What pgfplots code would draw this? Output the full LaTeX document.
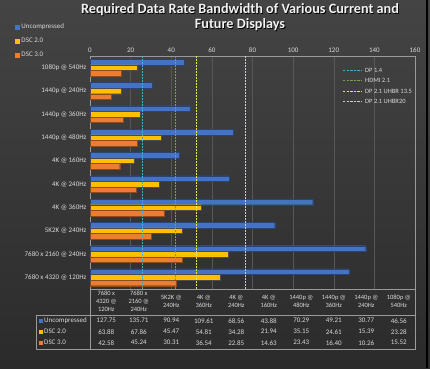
\documentclass[border=0pt]{standalone}
\usepackage{pgfplots}
\pgfplotsset{compat=1.18}
\usepackage{fontspec}
\setmainfont{Carlito}
\definecolor{bgtop}{HTML}{444444}
\definecolor{bgbot}{HTML}{2B2B2B}
\definecolor{gridc}{HTML}{575757}
\definecolor{axisc}{HTML}{9A9A9A}
\definecolor{labc}{HTML}{D9D9D9}
\definecolor{titlec}{HTML}{F2F2F2}
\definecolor{cblue}{HTML}{4472C4}
\definecolor{cgold}{HTML}{FFC000}
\definecolor{corange}{HTML}{ED7D31}
\definecolor{dpa}{HTML}{4BACC6}
\definecolor{hdmi}{HTML}{7F9F4F}
\definecolor{uhba}{HTML}{E8E84A}
\definecolor{uhbb}{HTML}{C9CCDC}
\begin{document}
\begin{tikzpicture}
\useasboundingbox (0,0) rectangle (430pt,368pt);
\shade[top color=bgtop, bottom color=bgbot] (0,0) rectangle (430pt,368pt);
\draw[black, line width=1.5pt] (427pt,0pt) -- (427pt,368pt);

\begin{axis}[
  at={(90pt,79pt)}, anchor=south west, scale only axis,
  width=325pt, height=233pt,
  xbar, bar width=0.24,
  xmin=0, xmax=160, ymin=-0.5, ymax=9.5,
  xtick={0,20,...,160}, xticklabel pos=upper,
  ytick={0,...,9},
  yticklabels={7680 x 4320 @ 120Hz, 7680 x 2160 @ 240Hz, 5K2K @ 240Hz, 4K @ 360Hz, 4K @ 240Hz, 4K @ 160Hz, 1440p @ 480Hz, 1440p @ 360Hz, 1440p @ 240Hz, 1080p @ 540Hz},
  major tick length=0pt,
  xmajorgrids, grid style={color=gridc, line width=0.5pt},
  axis line style={color=axisc, line width=0.6pt},
  tick label style={font=\fontsize{7}{8}\selectfont, color=labc},
  /pgf/number format/assume math mode=true,
  legend style={at={(-0.24,1.157)}, anchor=north west, draw=none, fill=none,
    font=\fontsize{7}{8}\selectfont, text=labc, row sep=4pt, cells={anchor=west}},
]
\addplot[fill=cblue, draw=cblue!60!black, line width=0.3pt, bar shift=0.24,
  legend image code/.code={\fill[cblue] (0pt,-2pt) rectangle (4pt,2pt);}]
  coordinates {(127.75,0) (135.71,1) (90.94,2) (109.61,3) (68.56,4) (43.88,5) (70.29,6) (49.21,7) (30.77,8) (46.56,9)};
\addlegendentry{Uncompressed}
\addplot[fill=cgold, draw=black!70, line width=0.3pt, bar shift=0,
  legend image code/.code={\fill[cgold] (0pt,-2pt) rectangle (4pt,2pt);}]
  coordinates {(63.88,0) (67.86,1) (45.47,2) (54.81,3) (34.28,4) (21.94,5) (35.15,6) (24.61,7) (15.39,8) (23.28,9)};
\addlegendentry{DSC 2.0}
\addplot[fill=corange, draw=corange!60!black, line width=0.3pt, bar shift=-0.24,
  legend image code/.code={\fill[corange] (0pt,-2pt) rectangle (4pt,2pt);}]
  coordinates {(42.58,0) (45.24,1) (30.31,2) (36.54,3) (22.85,4) (14.63,5) (23.43,6) (16.40,7) (10.26,8) (15.52,9)};
\addlegendentry{DSC 3.0}
\end{axis}

\begin{axis}[
  at={(90pt,79pt)}, anchor=south west, scale only axis,
  width=325pt, height=233pt,
  xmin=0, xmax=160, ymin=-0.5, ymax=9.5,
  hide axis,
]
\addplot[draw=dpa, dash pattern=on 2pt off 1pt, line width=1pt, mark=none]
  coordinates {(25.92,-0.5) (25.92,9.5)};
\addplot[draw=hdmi, dash pattern=on 2pt off 1pt, line width=1pt, mark=none]
  coordinates {(42.0,-0.5) (42.0,9.5)};
\addplot[draw=uhba, dash pattern=on 2pt off 1pt, line width=1pt, mark=none]
  coordinates {(52.22,-0.5) (52.22,9.5)};
\addplot[draw=uhbb, dash pattern=on 2pt off 1pt, line width=1pt, mark=none]
  coordinates {(76.5,-0.5) (76.5,9.5)};
\end{axis}

\begin{scope}[x=1pt, y=1pt]
  % line legend
  \foreach \c/\t/\yy in {dpa/{DP 1.4}/297.3, hdmi/{HDMI 2.1}/287.3, uhba/{DP 2.1 UHBR 13.5}/277, uhbb/{DP 2.1 UHBR20}/266.6} {
    \draw[draw=\c, dash pattern=on 2.4pt off 1.2pt, line width=1pt] (343,\yy) -- (362,\yy);
    \node[anchor=west, inner sep=0pt, font=\fontsize{6.5}{7.5}\selectfont, text=labc] at (365,\yy) {\t};
  }
  % title
  \node[font=\bfseries\fontsize{14.2}{15}\selectfont, text=black, align=center] at (240.8,349.8)
    {Required Data Rate Bandwidth of Various Current and\\Future Displays};
  \node[font=\bfseries\fontsize{14.2}{15}\selectfont, text=titlec, align=center] at (240,350.5)
    {Required Data Rate Bandwidth of Various Current and\\Future Displays};
  % data table lines
  \draw[axisc, line width=0.6pt] (90,79) -- (90,19);
  \draw[axisc, line width=0.6pt] (415,79) -- (415,19);
  \draw[axisc, line width=0.6pt] (36,52.3) rectangle (415,19);
  % row labels
  \fill[cblue] (39,45.3) rectangle (43,49.3);
  \node[anchor=west, inner sep=0pt, font=\fontsize{7}{8}\selectfont, text=labc] at (44,47.3) {Uncompressed};
  \fill[cgold] (39,34.3) rectangle (43,38.3);
  \node[anchor=west, inner sep=0pt, font=\fontsize{7}{8}\selectfont, text=labc] at (44,36.3) {DSC 2.0};
  \fill[corange] (39,23.3) rectangle (43,27.3);
  \node[anchor=west, inner sep=0pt, font=\fontsize{7}{8}\selectfont, text=labc] at (44,25.3) {DSC 3.0};
  % columns
  \foreach \i/\lab/\u/\a/\b in {
    0/{7680 x\\4320 @\\120Hz}/127.75/63.88/42.58,
    1/{7680 x\\2160 @\\240Hz}/135.71/67.86/45.24,
    2/{5K2K @\\240Hz}/90.94/45.47/30.31,
    3/{4K @\\360Hz}/109.61/54.81/36.54,
    4/{4K @\\240Hz}/68.56/34.28/22.85,
    5/{4K @\\160Hz}/43.88/21.94/14.63,
    6/{1440p @\\480Hz}/70.29/35.15/23.43,
    7/{1440p @\\360Hz}/49.21/24.61/16.40,
    8/{1440p @\\240Hz}/30.77/15.39/10.26,
    9/{1080p @\\540Hz}/46.56/23.28/15.52} {
    \node[align=center, inner sep=0pt, font=\fontsize{6.5}{8.2}\selectfont, text=labc] at ({106.25+32.5*\i},66.5) {\lab};
    \node[inner sep=0pt, font=\fontsize{7}{8}\selectfont, text=labc] at ({106.25+32.5*\i},47.3) {\u};
    \node[inner sep=0pt, font=\fontsize{7}{8}\selectfont, text=labc] at ({106.25+32.5*\i},36.3) {\a};
    \node[inner sep=0pt, font=\fontsize{7}{8}\selectfont, text=labc] at ({106.25+32.5*\i},25.3) {\b};
  }
\end{scope}
\end{tikzpicture}
\end{document}
